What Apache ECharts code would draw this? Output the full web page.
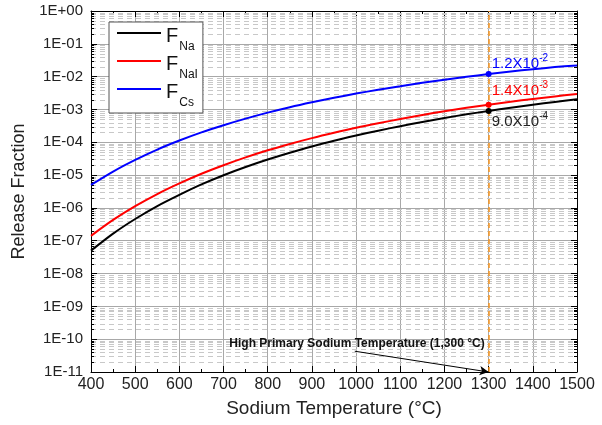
<!DOCTYPE html>
<html><head><meta charset="utf-8">
<script src="https://cdn.jsdelivr.net/npm/echarts@6/dist/echarts.min.js"></script>
<style>html,body{margin:0;padding:0;background:#fff}#c{width:602px;height:425px}</style>
</head><body><div id="c"></div>
<script>
// ---- data ----
const temperatures = [400,450,500,550,600,650,700,750,800,850,900,950,1000,1050,1100,1150,1200,1250,1300,1350,1400,1450,1500];
const fNa  = [5.0e-8,1.65e-7,4.6e-7,1.14e-6,2.5e-6,5.2e-6,9.9e-6,1.76e-5,2.97e-5,4.8e-5,7.4e-5,1.11e-4,1.6e-4,2.26e-4,3.1e-4,4.16e-4,5.5e-4,7.1e-4,9.0e-4,1.13e-3,1.39e-3,1.7e-3,2.05e-3];
const fNaI = [1.41e-7,4.3e-7,1.13e-6,2.65e-6,5.6e-6,1.10e-5,2.0e-5,3.46e-5,5.7e-5,8.9e-5,1.34e-4,1.95e-4,2.77e-4,3.8e-4,5.1e-4,6.8e-4,8.8e-4,1.12e-3,1.4e-3,1.72e-3,2.09e-3,2.5e-3,2.95e-3];
const fCs  = [5.0e-6,1.28e-5,2.9e-5,6.0e-5,1.13e-4,2.0e-4,3.3e-4,5.25e-4,8.0e-4,1.17e-3,1.65e-3,2.27e-3,3.04e-3,4.0e-3,5.1e-3,6.5e-3,8.1e-3,9.9e-3,1.2e-2,1.43e-2,1.68e-2,1.95e-2,2.2e-2];
const seriesNames = ['FNa','FNaI','FCs'];
const legendSubscripts = ['Na','NaI','Cs'];
const xTickValues = [400,500,600,700,800,900,1000,1100,1200,1300,1400,1500];
const yTickLabels = ['1E-11','1E-10','1E-09','1E-08','1E-07','1E-06','1E-05','1E-04','1E-03','1E-02','1E-01','1E+00'];
const minorMultipliers = [2,3,4,5,6,7,8,9];
const highTemp = 1300;
const markerValues = [9.0e-4, 1.4e-3, 1.2e-2];
const markerMantissa = ['9.0X10','1.4X10','1.2X10'];
const markerExponent = ['-4','-3','-2'];
const annotationText = 'High Primary Sodium Temperature (1,300 °C)';

// ---- build ----
const FONT = '"Liberation Sans", Arial, sans-serif';
const colors = ['#000000','#ff0000','#0000ff'];
const seriesData = [fNa, fNaI, fCs];
const minorValues = [];
for (let e = -11; e < 0; e++) minorMultipliers.forEach(k => minorValues.push([400, k * Math.pow(10, e)]));

const labelPos = [[6, 3], [6, -21], [6, -18]];

const lineSeries = seriesNames.map((name, i) => ({
  name, type: 'line', symbol: 'none', smooth: 0.3, z: 5,
  data: temperatures.map((t, j) => [t, seriesData[i][j]]),
  lineStyle: {color: colors[i], width: 2},
  itemStyle: {color: colors[i]},
  markPoint: {
    silent: true, z: 8,
    data: [{
      coord: [highTemp, markerValues[i]], symbol: 'circle', symbolSize: 6,
      itemStyle: {color: colors[i]},
      label: {
        show: true, position: labelPos[i],
        formatter: '{m|' + markerMantissa[i] + '}{s|' + markerExponent[i] + '}',
        rich: {
          m: {fontSize: 15, fontFamily: FONT, color: colors[i] === '#000000' ? '#222' : colors[i], lineHeight: 18, verticalAlign: 'bottom'},
          s: {fontSize: 10, fontFamily: FONT, color: colors[i] === '#000000' ? '#222' : colors[i], lineHeight: 10, verticalAlign: 'top'}
        }
      }
    }]
  }
}));

const option = {
  animation: false,
  backgroundColor: '#fff',
  grid: {left: 91, right: 25, top: 11, bottom: 53},
  legend: {
    data: seriesNames.map(n => ({name: n, icon: 'rect'})), orient: 'vertical', left: 109, top: 22,
    padding: [0, 5, 4, 8], itemWidth: 44, itemHeight: 2, itemGap: -3, itemTextGap: 6,
    backgroundColor: '#fff', borderColor: '#555', borderWidth: 1,
    formatter: name => '{f|F}{s|' + legendSubscripts[seriesNames.indexOf(name)] + '}',
    textStyle: {
      rich: {
        f: {fontSize: 20, fontFamily: FONT, color: '#111', lineHeight: 22, padding: [4, 0, 0, 0], verticalAlign: 'top'},
        s: {fontSize: 12, fontFamily: FONT, color: '#111', lineHeight: 14, padding: [19, 0, 0, 1], verticalAlign: 'top'}
      }
    }
  },
  xAxis: [{
    type: 'value', min: 400, max: 1500, interval: 100, position: 'bottom',
    name: 'Sodium Temperature (°C)', nameLocation: 'middle', nameGap: 27,
    nameTextStyle: {fontSize: 19, fontFamily: FONT, color: '#222'},
    axisLine: {lineStyle: {color: '#000', width: 1}},
    axisTick: {inside: true, length: 6, lineStyle: {color: '#000'}},
    minorTick: {show: true, splitNumber: 2, length: 3, lineStyle: {color: '#000'}},
    axisLabel: {fontSize: 16, fontFamily: FONT, color: '#222', margin: 5,
      formatter: v => xTickValues.indexOf(v) >= 0 ? String(v) : ''},
    splitLine: {show: true, lineStyle: {color: '#a8a8a8', width: 1}}
  }, {
    type: 'value', min: 400, max: 1500, interval: 100, position: 'top',
    axisLine: {lineStyle: {color: '#000', width: 1}},
    axisTick: {inside: true, length: 6, lineStyle: {color: '#000'}},
    minorTick: {show: true, splitNumber: 2, length: 3, lineStyle: {color: '#000'}},
    axisLabel: {show: false}, splitLine: {show: false}
  }],
  yAxis: [{
    type: 'log', logBase: 10, min: 1e-11, max: 1, interval: 1, position: 'left',
    name: 'Release Fraction', nameLocation: 'middle', nameGap: 54,
    nameTextStyle: {fontSize: 18, fontFamily: FONT, color: '#222'},
    axisLine: {show: true, lineStyle: {color: '#000', width: 1}},
    axisTick: {inside: true, length: 6, lineStyle: {color: '#000'}},
    axisLabel: {fontSize: 15, fontFamily: FONT, color: '#222', margin: 8,
      formatter: v => yTickLabels[Math.round(Math.log10(v)) + 11]},
    splitLine: {show: true, lineStyle: {color: '#a8a8a8', width: 1}}
  }, {
    type: 'log', logBase: 10, min: 1e-11, max: 1, interval: 1, position: 'right',
    axisLine: {show: true, lineStyle: {color: '#000', width: 1}},
    axisTick: {inside: true, length: 6, lineStyle: {color: '#000'}},
    axisLabel: {show: false}, splitLine: {show: false}
  }],
  series: [
    {
      name: 'minorGrid', type: 'custom', silent: true, z: 1,
      data: minorValues,
      renderItem: (params, api) => {
        const cs = params.coordSys;
        const y = Math.round(api.coord([api.value(0), api.value(1)])[1]) + 0.5;
        return {type: 'group', children: [
          {type: 'line', shape: {x1: cs.x, y1: y, x2: cs.x + cs.width, y2: y}, style: {stroke: '#c8c8c8', lineWidth: 1, lineDash: [5, 4]}},
          {type: 'line', shape: {x1: cs.x, y1: y, x2: cs.x + 3, y2: y}, style: {stroke: '#000', lineWidth: 1}},
          {type: 'line', shape: {x1: cs.x + cs.width - 3, y1: y, x2: cs.x + cs.width, y2: y}, style: {stroke: '#000', lineWidth: 1}}
        ]};
      }
    },
    ...lineSeries,
    {
      name: 'annotations', type: 'line', data: [], z: 6,
      markLine: {
        silent: true, symbol: 'none', label: {show: false},
        data: [
          {xAxis: highTemp, lineStyle: {color: '#f7941d', width: 1.5, type: [5, 3]}},
          [{coord: [997, 4.3e-11], symbol: 'none', lineStyle: {color: '#000', width: 1, type: 'solid'}},
           {coord: [highTemp, 1e-11], symbol: 'arrow', symbolSize: [7, 9]}]
        ]
      },
      markPoint: {
        silent: true,
        data: [{
          coord: [1002, 7.1e-11], symbol: 'circle', symbolSize: 1, itemStyle: {color: 'rgba(0,0,0,0)'},
          label: {show: true, position: 'inside', formatter: annotationText,
            fontSize: 12, fontWeight: 'bold', fontFamily: FONT, color: '#111'}
        }]
      }
    }
  ]
};
const chart = echarts.init(document.getElementById('c'), null, {renderer: 'canvas'});
chart.setOption(option);
</script></body></html>
